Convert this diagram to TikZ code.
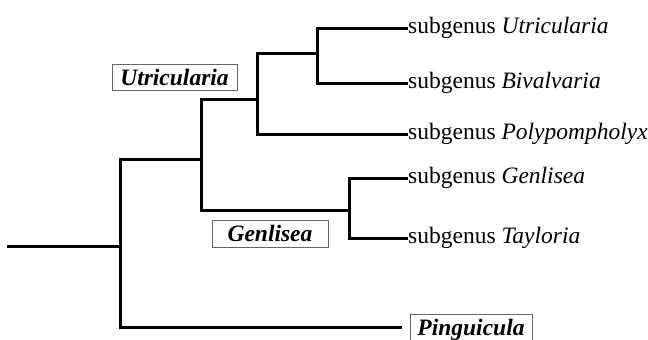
\documentclass[tikz,border=0pt]{standalone}
\usepackage{fontspec}
\setmainfont{Liberation Serif}
\usepackage{tikz}

\tikzset{
  branch/.style={line width=3pt, line cap=rect},
  leaf/.style={anchor=base west, inner sep=0pt, xshift=2pt, yshift=-5pt},
  taxon/.style={draw=black!60, line width=0.8pt, inner sep=0pt, minimum height=26.5pt,
    text height=15pt, text depth=0pt,
    font=\fontsize{23.5}{26}\selectfont\bfseries\itshape}
}

\begin{document}
\begin{tikzpicture}[x=1pt, y=-1pt, font=\fontsize{23.5}{26}\selectfont]
\useasboundingbox (0,0) rectangle (648,340);
\coordinate (root) at (8,246);
\coordinate (n1) at (120,246);
\coordinate (n2) at (201,159);
\coordinate (n3) at (257,99);
\coordinate (n4) at (317,53);
\coordinate (n5) at (349,210);
\coordinate (tUtr) at (406,28);
\coordinate (tBiv) at (406,83);
\coordinate (tPol) at (406,134);
\coordinate (tGen) at (406,178);
\coordinate (tTay) at (406,238);
\coordinate (tPin) at (400,327);
\draw[branch] (root) -- (n1);
\draw[branch] (n1) |- (n2);
\draw[branch] (n1) |- (tPin);
\draw[branch] (n2) |- (n3);
\draw[branch] (n2) |- (n5);
\draw[branch] (n3) |- (n4);
\draw[branch] (n3) |- (tPol);
\draw[branch] (n4) |- (tUtr);
\draw[branch] (n4) |- (tBiv);
\draw[branch] (n5) |- (tGen);
\draw[branch] (n5) |- (tTay);
\node[leaf] (lUtr) at (tUtr) {subgenus \textit{Utricularia}};
\node[leaf] (lBiv) at (tBiv) {subgenus \textit{Bivalvaria}};
\node[leaf] (lPol) at (tPol) {subgenus \textit{Polypompholyx}};
\node[leaf] (lGen) at (tGen) {subgenus \textit{Genlisea}};
\node[leaf] (lTay) at (tTay) {subgenus \textit{Tayloria}};
\node[taxon, minimum width=125pt] (gUtr) at (174.5,77.5) {Utricularia};
\node[taxon, minimum width=116pt] (gGen) at (270,234) {Genlisea\hspace{6pt}};
\node[taxon, minimum width=122pt] (gPin) at (471,327.5) {Pinguicula\hspace{14pt}};
\end{tikzpicture}
\end{document}
